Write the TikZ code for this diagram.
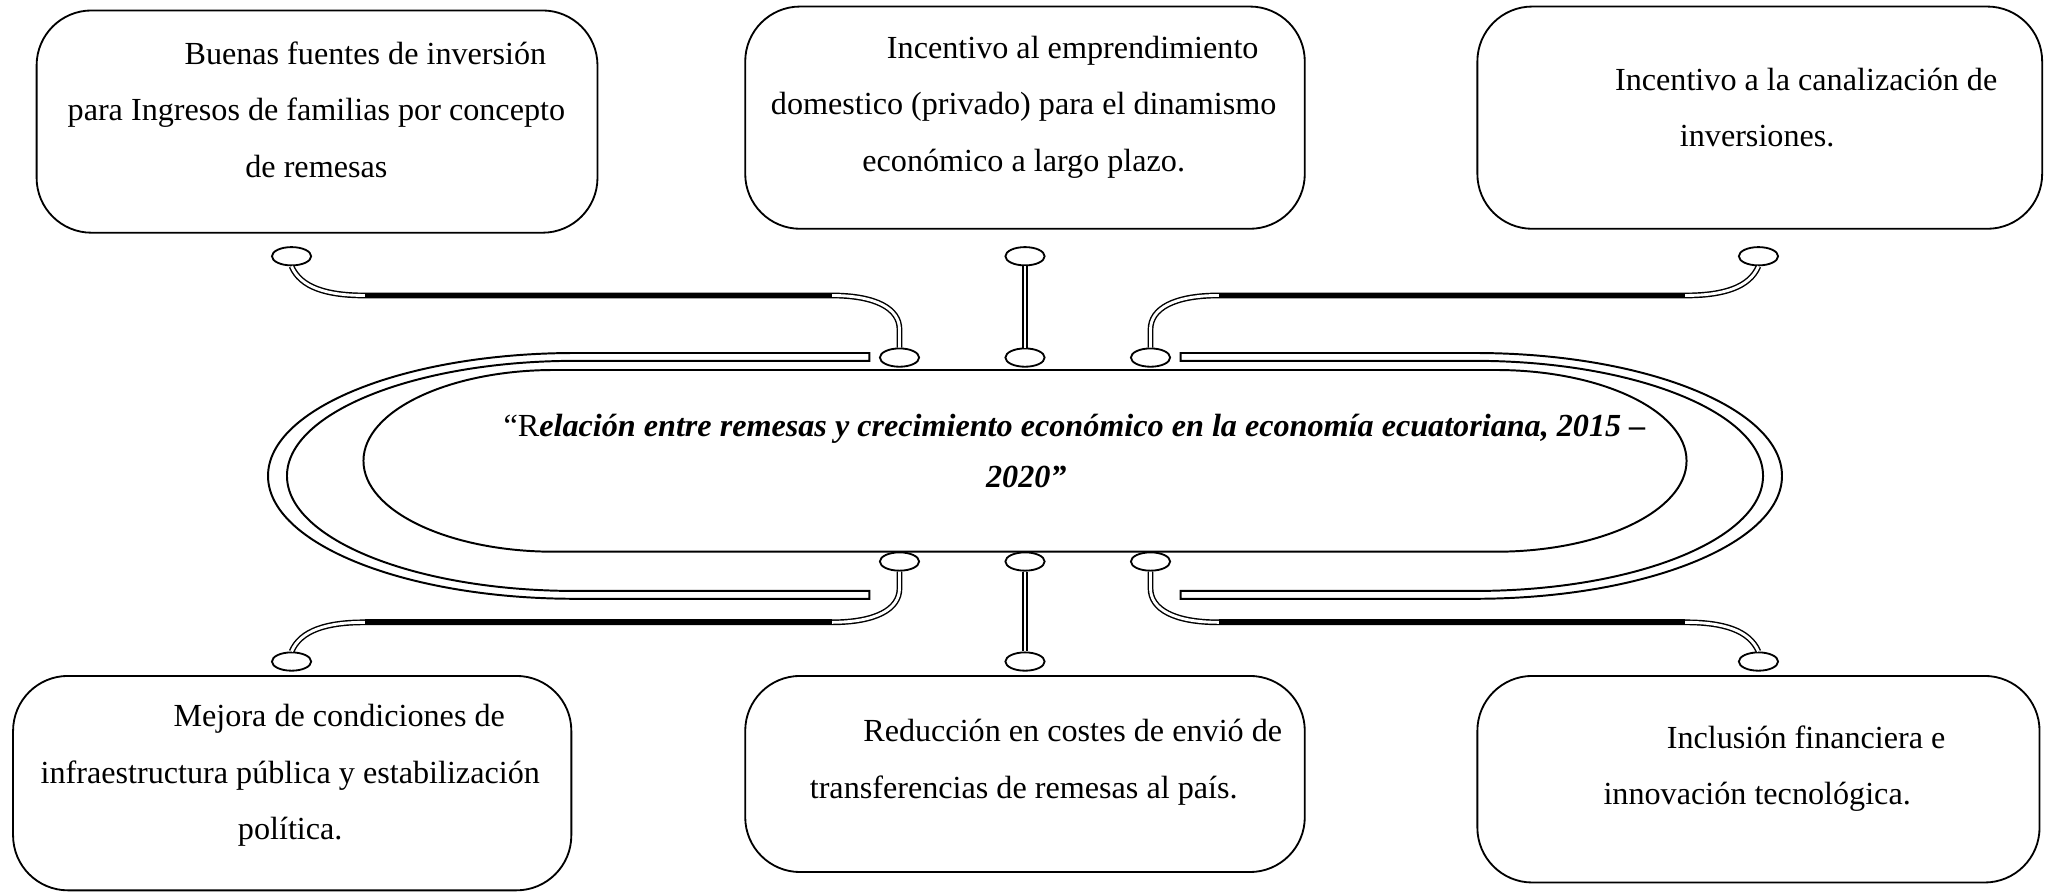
\documentclass[tikz,border=0pt]{standalone}
\usepackage{fontspec}
\setmainfont{Liberation Serif}
\usetikzlibrary{shapes.geometric}
\begin{document}
\begin{tikzpicture}[x=1pt,y=-1pt,
  box/.style={draw, line width=1.4pt, rounded corners=42pt, inner sep=0pt},
  txt/.style={align=center, font=\fontsize{24.6pt}{43pt}\selectfont, inner sep=0pt},
  ctxt/.style={font=\fontsize{24.6pt}{30pt}\selectfont, inner sep=0pt},
  ell/.style={draw, line width=1.4pt, ellipse, fill=white, minimum width=30pt, minimum height=14pt, inner sep=0pt},
  ring/.style={line width=1.5pt},
  conn/.style={draw, line width=1.1pt, double, double distance=2.2pt},
  band/.style={line width=4.4pt}
]
\useasboundingbox (0,0) rectangle (1568,682);

% boxes
\node[box, minimum width=429pt, minimum height=170pt] (b1) at (242.5,93) {};
\node[box, minimum width=428pt, minimum height=170pt] (b2) at (784,90) {};
\node[box, minimum width=432pt, minimum height=170pt] (b3) at (1346,90) {};
\node[box, minimum width=427pt, minimum height=164pt] (b4) at (223.5,599) {};
\node[box, minimum width=428pt, minimum height=150pt] (b5) at (784,592) {};
\node[box, minimum width=430pt, minimum height=158pt] (b6) at (1345,596) {};

\node[txt] (b1t) at (242,84) {\hspace*{75pt}Buenas fuentes de inversión\\para Ingresos de familias por concepto\\de remesas};
\node[txt] (b2t) at (783,82) {\hspace*{75pt}Incentivo al emprendimiento\\domestico (privado) para el dinamismo\\económico a largo plazo.};
\node[txt] (b3t) at (1344,82) {\hspace*{75pt}Incentivo a la canalización de\\inversiones.};
\node[txt] (b4t) at (222,593) {\hspace*{75pt}Mejora de condiciones de\\infraestructura pública y estabilización\\política.};
\node[txt] (b5t) at (783,583) {\hspace*{75pt}Reducción en costes de envió de\\transferencias de remesas al país.};
\node[txt] (b6t) at (1344,588) {\hspace*{75pt}Inclusión financiera e\\innovación tecnológica.};

% central shape
\draw[ring] (665,270) -- (440,270) .. controls (310.2,270) and (205,312.1) .. (205,364)
  .. controls (205,415.9) and (310.2,458) .. (440,458) -- (665,458) -- (665,452) -- (440,452)
  .. controls (318.2,452) and (219.5,412.6) .. (219.5,364) .. controls (219.5,315.4) and (318.2,276) .. (440,276)
  -- (665,276) -- cycle;
\draw[ring] (903,270) -- (1128,270) .. controls (1257.8,270) and (1363,312.1) .. (1363,364)
  .. controls (1363,415.9) and (1257.8,458) .. (1128,458) -- (903,458) -- (903,452) -- (1128,452)
  .. controls (1249.8,452) and (1348.5,412.6) .. (1348.5,364) .. controls (1348.5,315.4) and (1249.8,276) .. (1128,276)
  -- (903,276) -- cycle;
\draw[ring] (424,283) -- (1144,283) .. controls (1224.6,283) and (1290,314.1) .. (1290,352.5)
  .. controls (1290,390.9) and (1224.6,422) .. (1144,422) -- (424,422)
  .. controls (343.4,422) and (278,390.9) .. (278,352.5) .. controls (278,314.1) and (343.4,283) .. cycle;

\node[ctxt, anchor=west] (ct1) at (385,328) {“R\textbf{\textit{elación entre remesas y crecimiento económico en la economía ecuatoriana, 2015 –}}};
\node[ctxt] (ct2) at (785,365) {\textbf{\textit{2020”}}};

% small ellipses
\node[ell] (o1) at (223,196) {};
\node[ell] (o2) at (784,196) {};
\node[ell] (o3) at (1345,196) {};
\node[ell] (r1) at (688,273.5) {};
\node[ell] (r2) at (784,273.5) {};
\node[ell] (r3) at (880,273.5) {};
\node[ell] (r4) at (688,429.5) {};
\node[ell] (r5) at (784,429.5) {};
\node[ell] (r6) at (880,429.5) {};
\node[ell] (o4) at (223,506) {};
\node[ell] (o5) at (784,506) {};
\node[ell] (o6) at (1345,506) {};

% connectors
\draw[conn] (o1.south) .. controls (230,220) and (250,226) .. (279,226) coordinate (h1a)
  -- (636,226) coordinate (h1b) .. controls (670,226) and (688,236) .. (688,252) -- (r1.north);
\draw[conn] (o2.south) -- (r2.north);
\draw[conn] (o3.south) .. controls (1338,220) and (1318,226) .. (1289,226) coordinate (h3a)
  -- (932,226) coordinate (h3b) .. controls (898,226) and (880,236) .. (880,252) -- (r3.north);
\draw[conn] (r4.south) -- (688,450) .. controls (688,466) and (670,476) .. (636,476) coordinate (h4a)
  -- (279,476) coordinate (h4b) .. controls (250,476) and (230,482) .. (o4.north);
\draw[conn] (r5.south) -- (o5.north);
\draw[conn] (r6.south) -- (880,450) .. controls (880,466) and (898,476) .. (932,476) coordinate (h6a)
  -- (1289,476) coordinate (h6b) .. controls (1318,476) and (1338,482) .. (o6.north);
\draw[band] (h1a) -- (h1b);
\draw[band] (h3a) -- (h3b);
\draw[band] (h4a) -- (h4b);
\draw[band] (h6a) -- (h6b);
\end{tikzpicture}
\end{document}
